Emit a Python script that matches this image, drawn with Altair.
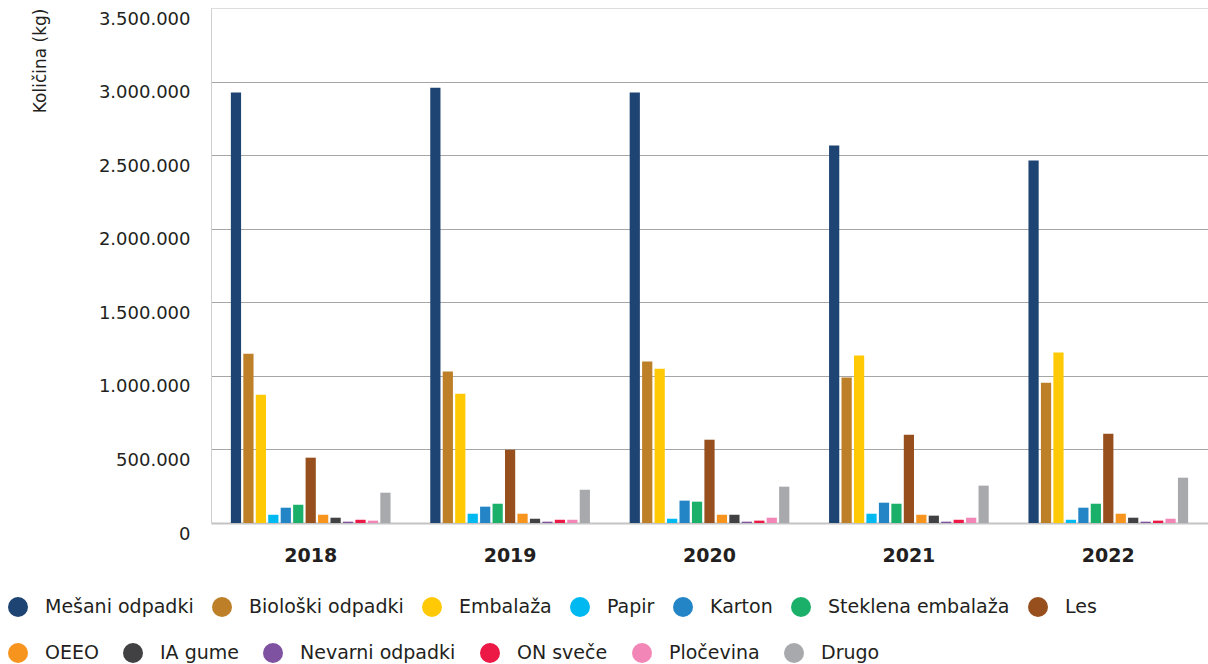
import altair as alt
import pandas as pd

years = ["2018", "2019", "2020", "2021", "2022"]
categories = ["Mešani odpadki", "Biološki odpadki", "Embalaža", "Papir", "Karton",
              "Steklena embalaža", "Les", "OEEO", "IA gume", "Nevarni odpadki",
              "ON sveče", "Pločevina", "Drugo"]
colors = ["#1d4472", "#bd7f28", "#ffca05", "#00b9f1", "#2384c6", "#1bb06a", "#974f1d",
          "#f7941d", "#414042", "#7e52a0", "#ec1846", "#f287b7", "#a7a9ac"]

mesani = [2925000, 2958000, 2925000, 2566000, 2464000]
bioloski = [1151000, 1029000, 1097000, 988000, 954000]
embalaza = [872000, 879000, 1049000, 1138000, 1158000]
papir = [56000, 63000, 29000, 63000, 22000]
karton = [104000, 111000, 152000, 138000, 104000]
steklena = [124000, 131000, 145000, 131000, 131000]
les = [444000, 498000, 566000, 600000, 607000]
oeeo = [56000, 63000, 56000, 56000, 63000]
ia_gume = [36000, 29000, 56000, 50000, 36000]
nevarni = [9000, 9000, 9000, 9000, 9000]
on_svece = [22000, 22000, 16000, 22000, 16000]
plocevina = [16000, 22000, 36000, 36000, 29000]
drugo = [206000, 226000, 247000, 254000, 308000]

series = [mesani, bioloski, embalaza, papir, karton, steklena, les, oeeo,
          ia_gume, nevarni, on_svece, plocevina, drugo]

rows = []
for cat, vals in zip(categories, series):
    for y, v in zip(years, vals):
        rows.append({"year": y, "category": cat, "value": v})
df = pd.DataFrame(rows)

y_ticks = [0, 500000, 1000000, 1500000, 2000000, 2500000, 3000000, 3500000]

FONT = "DejaVu Sans"
TXT = "#231f20"

x_enc = alt.X("year:N", sort=years,
              scale=alt.Scale(paddingInner=0.188, paddingOuter=0.094),
              axis=alt.Axis(title=None, labelAngle=0, labelFontWeight="bold",
                            labelFontSize=19, labelPadding=23, ticks=False,
                            domain=True, domainColor="#c4c4c4", domainWidth=2,
                            labelColor=TXT, labelFont=FONT))
xo_enc = alt.XOffset("category:N", sort=categories,
                     scale=alt.Scale(paddingInner=0.18, paddingOuter=0.09))
y_enc = alt.Y("value:Q",
              scale=alt.Scale(domain=[0, 3500000], nice=False),
              axis=alt.Axis(values=y_ticks,
                            labelExpr="replace(replace(format(datum.value, ','), ',', '.'), ',', '.')",
                            title="Količina (kg)", titleAnchor="end", titleFontSize=17,
                            titleFontWeight="normal", titlePadding=49, titleFont=FONT,
                            titleColor=TXT,
                            labelFontSize=18, labelPadding=21, labelFont=FONT,
                            labelColor=TXT, ticks=False, labelOffset=11,
                            domainColor="#d0d0d0", domainWidth=1,
                            gridColor="#a6a6a6", gridWidth=1,
                            gridOpacity=alt.condition("datum.value >= 3500000 || datum.value == 0",
                                                      alt.value(0), alt.value(1))))


def legend(y, pad):
    return alt.Legend(title=None, orient="none", legendX=-203, legendY=y,
                      direction="horizontal",
                      symbolType="circle", symbolSize=400,
                      symbolStrokeWidth=0, symbolOpacity=1,
                      labelFontSize=19, labelFont=FONT, labelColor=TXT,
                      labelOffset=17, columnPadding=pad,
                      padding=0, labelLimit=400)


cats1, cols1 = categories[:7], colors[:7]
cats2, cols2 = categories[7:], colors[7:]

layer1 = alt.Chart(df).transform_filter(
    alt.FieldOneOfPredicate(field="category", oneOf=cats1)
).mark_bar().encode(
    x=x_enc, xOffset=xo_enc, y=y_enc,
    color=alt.Color("category:N", sort=cats1,
                    scale=alt.Scale(domain=cats1, range=cols1),
                    legend=legend(589, 18)),
)

layer2 = alt.Chart(df).transform_filter(
    alt.FieldOneOfPredicate(field="category", oneOf=cats2)
).mark_bar().encode(
    x=x_enc, xOffset=xo_enc, y=y_enc,
    color=alt.Color("category:N", sort=cats2,
                    scale=alt.Scale(domain=cats2, range=cols2),
                    legend=legend(635, 24)),
)

chart = alt.layer(layer1, layer2).resolve_scale(color="independent").properties(
    width=997, height=515,
    autosize=alt.AutoSizeParams(type="none"),
    padding={"left": 211, "top": 8, "right": 0, "bottom": 141},
).configure_view(stroke=None).configure(background="white")

chart.save("out.html", embed_options={"renderer": "svg", "actions": False})
